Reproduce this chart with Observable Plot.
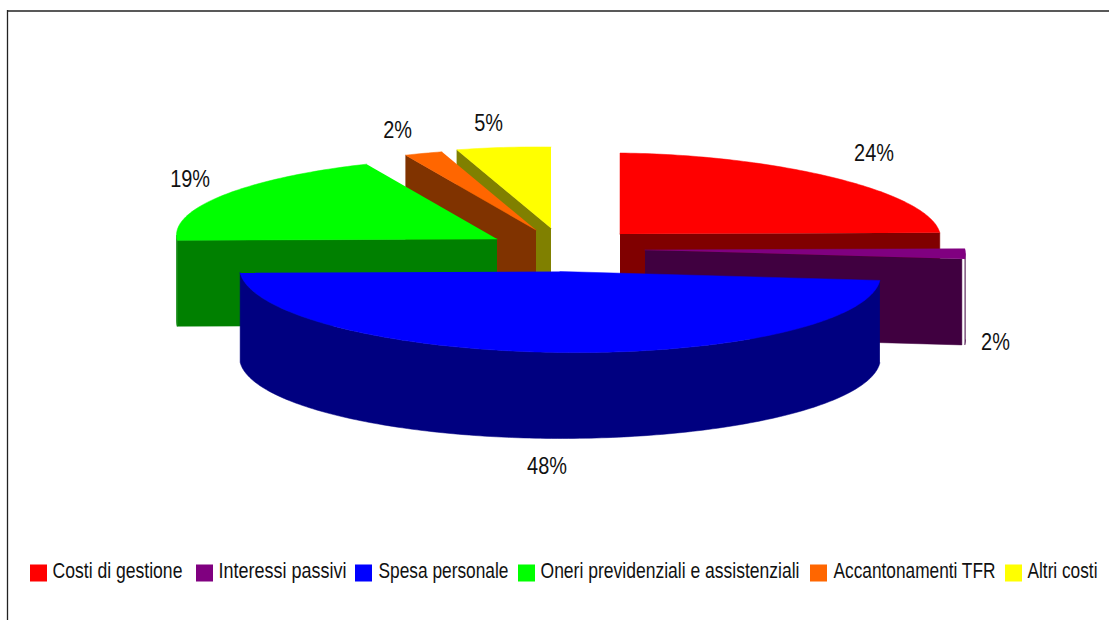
<!DOCTYPE html>
<html>
<head>
<meta charset="utf-8">
<script src="https://cdn.jsdelivr.net/npm/d3@7"></script>
<script src="https://cdn.jsdelivr.net/npm/@observablehq/plot@0.6"></script>
<style>
  html, body { margin: 0; padding: 0; background: #fff; }
  svg { display: block; }
</style>
</head>
<body>
<script>
// Cost breakdown, percentage of total
const categories = ["Costi di gestione", "Interessi passivi", "Spesa personale",
  "Oneri previdenziali e assistenziali", "Accantonamenti TFR", "Altri costi"];
const values = [24, 2, 48, 19, 2, 5];
const colors = ["#ff0000", "#800080", "#0000ff", "#00ff00", "#ff6600", "#ffff00"];

// Exploded pie layout: hub of every slice, ellipse radii, extrusion
const hubX = [619.5, 644.5, 559.5, 496.5, 535.5, 550.5];
const hubY = [233.5, 249.5, 271, 238.5, 229.5, 227.5];
const depthSkew = [0, 0, -0.011, 0, 0, 0];
const faceTrim = [0, 3, 0, 0, 0, 0];
const rx = 320.5, ry = 81, depth = 86, tilt = 0.012, backShrink = 0.055;
const paintOrder = [0, 1, 5, 4, 3, 2];

// Label offsets from the midpoint of each outer arc
const labelDX = [41, 30, -13, -35, -26, -15];
const labelDY = [-24, 88, 114, -15, -23, -24];

// Legend layout
const swatchX = [30, 196, 355, 518, 810, 1005];
const legendTextX = [52, 218, 378, 540, 833, 1027];
const legendTextW = [130, 128, 130, 259, 162, 70];
const legendY = 571, swatchSize = 17;

const rad = d3.scaleLinear().domain([0, 360]).range([0, 2 * Math.PI]);
const total = d3.sum(values);
let running = 0;
const slices = values.map((v, i) => {
  const start = running / total * 360;
  running += v;
  return {i, start, end: running / total * 360};
});

// Projection of a pie angle (clockwise from north) on the tilted ellipse;
// the far half is drawn slightly narrower, as in a perspective view
function rimPoint(s, a) {
  const c = Math.cos(rad(a));
  const far = Math.max(0, c);
  const dx = rx * Math.sin(rad(a)) * (1 - backShrink * far * far);
  const dy = -ry * c + tilt * dx;
  return {x: hubX[s.i] + dx, y: hubY[s.i] + dy, dx};
}
const lower = (s, p) => ({x: p.x, y: p.y + depth + depthSkew[s.i] * (p.dx ?? 0)});

function arc(s, a0, a1) {
  const n = Math.max(2, Math.ceil(a1 - a0));
  return d3.range(n + 1).map(k => rimPoint(s, a0 + (a1 - a0) * k / n));
}

const polygons = [];
for (const idx of paintOrder) {
  const s = slices[idx];
  const fill = colors[s.i];
  const side = d3.rgb(fill);
  const dark = d3.rgb(side.r / 2, side.g / 2, side.b / 2).formatHex();
  const hub = {x: hubX[s.i], y: hubY[s.i], dx: 0};
  // Cut faces turned towards the viewer
  for (const a of [s.start, s.end]) {
    const visible = a === s.start ? Math.sin(rad(a)) < -1e-6 : Math.sin(rad(a)) > 1e-6;
    if (!visible) continue;
    const p = rimPoint(s, a);
    const edge = {...p, x: p.x - faceTrim[s.i]};
    polygons.push({fill: dark, pts: [hub, edge, lower(s, edge), lower(s, hub)]});
  }
  // Outer wall on the front half of the ellipse
  const a0 = Math.max(s.start, 90), a1 = Math.min(s.end, 270);
  if (a1 > a0) {
    const wall = arc(s, a0, a1);
    polygons.push({fill: dark, pts: [...wall, ...wall.slice().reverse().map(p => lower(s, p))]});
  }
  // Top surface
  polygons.push({fill, pts: [hub, ...arc(s, s.start, s.end)]});
}

const labels = slices.map(s => {
  const p = rimPoint(s, (s.start + s.end) / 2);
  return {text: `${values[s.i]}%`, x: p.x + labelDX[s.i], y: p.y + labelDY[s.i]};
});
const legend = categories.map((name, i) => ({name, color: colors[i], sx: swatchX[i], tx: legendTextX[i]}));

const chart = Plot.plot({
  width: 1109, height: 620,
  margin: 0,
  style: {background: "#fff", fontFamily: "'Liberation Sans', Arial, sans-serif"},
  x: {domain: [0, 1109], range: [0, 1109], axis: null},
  y: {domain: [0, 620], range: [0, 620], axis: null},
  marks: [
    Plot.ruleX([7], {y1: 10, y2: 620, stroke: "#222", strokeWidth: 1.3}),
    Plot.ruleY([10.5], {x1: 7, x2: 1109, stroke: "#222", strokeWidth: 1.3}),
    ...polygons.map(p => Plot.line(p.pts, {x: "x", y: "y", fill: p.fill, stroke: p.fill, strokeWidth: 0.5})),
    Plot.text(labels, {x: "x", y: "y", text: "text", fontSize: 24, fill: "#111", className: "pct"}),
    Plot.rect(legend, {
      x1: "sx", x2: d => d.sx + swatchSize,
      y1: legendY - swatchSize / 2 + 2, y2: legendY + swatchSize / 2 + 2,
      fill: "color"
    }),
    Plot.text(legend, {x: "tx", y: legendY, text: "name", textAnchor: "start", fontSize: 21.5, fill: "#111", className: "leg"})
  ]
});
document.body.appendChild(chart);

// Condense the lettering horizontally around each text's anchor
const squeeze = (t, k) => t.setAttribute("transform", `${t.getAttribute("transform") ?? ""} scale(${k},1)`);
chart.querySelectorAll(".pct text").forEach(t => squeeze(t, 0.83));
chart.querySelectorAll(".leg text").forEach((t, i) => squeeze(t, legendTextW[i] / t.getComputedTextLength()));
</script>
</body>
</html>
